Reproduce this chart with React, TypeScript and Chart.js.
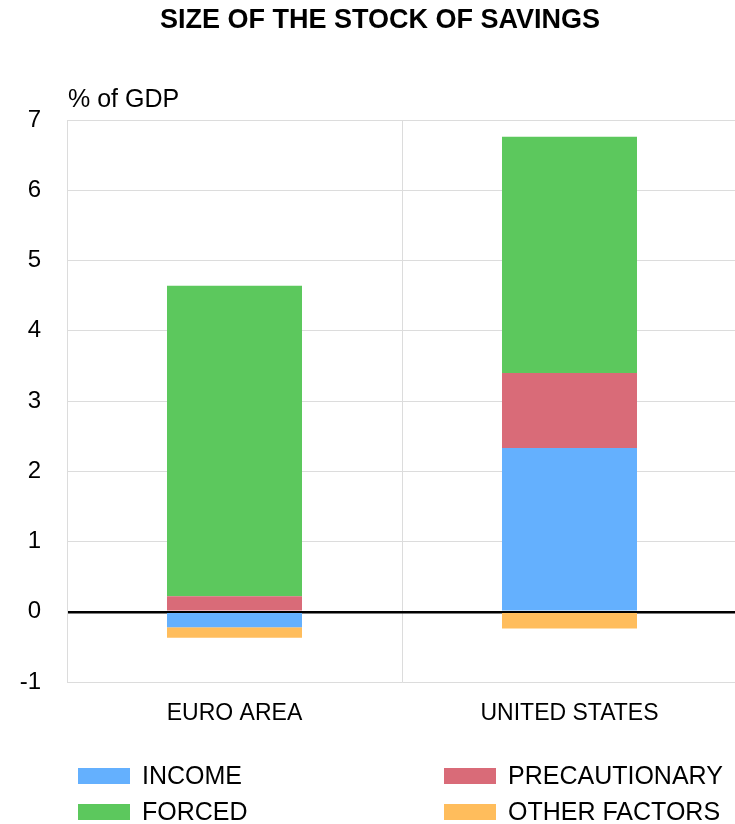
import React, { useEffect, useRef } from "react";
import { Chart, registerables } from "chart.js";

Chart.register(...registerables);

const categories = ["EURO AREA", "UNITED STATES"];
const income = [-0.22, 2.33];
const precautionary = [0.22, 1.07];
const forced = [4.42, 3.36];
const otherFactors = [-0.15, -0.24];

const seriesNames = ["INCOME", "PRECAUTIONARY", "FORCED", "OTHER FACTORS"];
const seriesColors = ["#64b0fe", "#d96b78", "#5cc85d", "#ffbd5c"];

const titleText = "SIZE OF THE STOCK OF SAVINGS";
const unitText = "% of GDP";
const FONT = "'Liberation Sans', Arial, Helvetica, sans-serif";

const textPlugin = {
  id: "customText",
  afterDraw(chart: any) {
    const ctx = chart.ctx;
    ctx.save();
    ctx.fillStyle = "#000";
    ctx.font = `bold 27px ${FONT}`;
    ctx.textAlign = "center";
    ctx.textBaseline = "middle";
    ctx.fillText(titleText, 380, 21);

    ctx.font = `25px ${FONT}`;
    ctx.textAlign = "left";
    ctx.fillText(unitText, 68, 100);

    // legend in 2x2 grid
    const cols = [78, 444];
    const rows = [776, 812];
    const order = [0, 1, 2, 3];
    order.forEach((di, i) => {
      const ds = chart.data.datasets[di];
      const x = cols[i % 2];
      const y = rows[Math.floor(i / 2)];
      ctx.fillStyle = ds.backgroundColor;
      ctx.fillRect(x, y - 8, 52, 16);
      ctx.fillStyle = "#000";
      ctx.font = `25px ${FONT}`;
      ctx.textAlign = "left";
      ctx.textBaseline = "middle";
      ctx.fillText(ds.label, x + 64, y + 1);
    });
    ctx.restore();
  },
};

export default function App() {
  const ref = useRef<HTMLCanvasElement>(null);
  useEffect(() => {
    if (!ref.current) return;
    const dataSeries = [income, precautionary, forced, otherFactors];
    const chart = new Chart(ref.current, {
      type: "bar",
      data: {
        labels: categories,
        datasets: dataSeries.map((d, i) => ({
          label: seriesNames[i],
          data: d,
          backgroundColor: seriesColors[i],
          borderWidth: 0,
          barPercentage: 0.403,
          categoryPercentage: 1,
        })),
      },
      options: {
        responsive: false,
        animation: false,
        devicePixelRatio: 1,
        layout: { padding: { top: 120, left: 0, right: 3, bottom: 92 } },
        plugins: {
          legend: { display: false },
          title: { display: false },
          tooltip: { enabled: false },
        },
        scales: {
          x: {
            stacked: true,
            grid: { color: "#dcdcdc", lineWidth: 1, drawTicks: false },
            border: { color: "#dcdcdc" },
            ticks: {
              color: "#000",
              font: { family: FONT, size: 23 },
              padding: 18,
            },
            afterFit: (s: any) => {
              s.height = 50;
            },
          },
          y: {
            stacked: true,
            min: -1,
            max: 7,
            grid: {
              drawTicks: false,
              color: (c: any) => (c.tick && c.tick.value === 0 ? "#000" : "#dcdcdc"),
              lineWidth: (c: any) => (c.tick && c.tick.value === 0 ? 2.5 : 1),
            },
            border: { color: "#dcdcdc" },
            ticks: {
              stepSize: 1,
              color: "#000",
              font: { family: FONT, size: 24 },
              padding: 26,
            },
            afterFit: (s: any) => {
              s.width = 67;
            },
          },
        },
      },
      plugins: [textPlugin],
    });
    return () => chart.destroy();
  }, []);
  return (
    <div
      style={{
        position: "fixed",
        left: 0,
        top: 0,
        width: 735,
        height: 824,
        overflow: "hidden",
        background: "#fff",
      }}
    >
      <canvas ref={ref} width={740} height={824} style={{ display: "block" }} />
    </div>
  );
}
